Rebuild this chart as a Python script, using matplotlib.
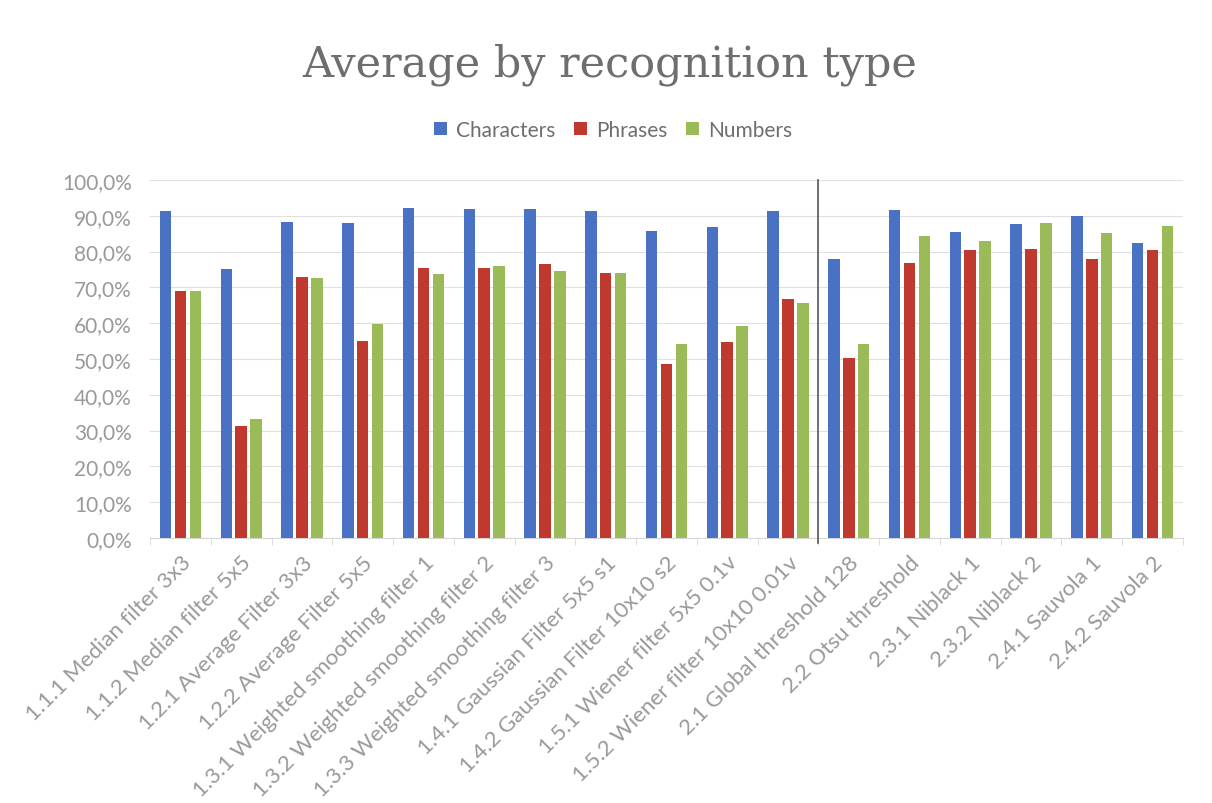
import matplotlib
matplotlib.use("Agg")
import matplotlib.pyplot as plt
import numpy as np
from matplotlib.ticker import FuncFormatter, FixedLocator

categories = [
    "1.1.1 Median filter 3x3", "1.1.2 Median filter 5x5", "1.2.1 Average Filter 3x3",
    "1.2.2 Average Filter 5x5", "1.3.1 Weighted smoothing filter 1",
    "1.3.2 Weighted smoothing filter 2", "1.3.3 Weighted smoothing filter 3",
    "1.4.1 Gaussian Filter 5x5 s1", "1.4.2 Gaussian Filter 10x10 s2",
    "1.5.1 Wiener filter 5x5 0.1v", "1.5.2 Wiener filter 10x10 0.01v",
    "2.1 Global threshold 128", "2.2 Otsu threshold", "2.3.1 Niblack 1",
    "2.3.2 Niblack 2", "2.4.1 Sauvola 1", "2.4.2 Sauvola 2",
]
characters = [91.3, 75.1, 88.3, 87.9, 92.2, 91.9, 92.0, 91.3, 85.7, 86.9, 91.4,
              77.8, 91.5, 85.5, 87.6, 89.8, 82.5]
phrases = [69.0, 31.2, 72.8, 55.0, 75.3, 75.5, 76.5, 74.1, 48.7, 54.6, 66.8,
           50.3, 76.7, 80.4, 80.6, 77.8, 80.4]
numbers = [69.1, 33.2, 72.6, 59.7, 73.7, 75.9, 74.5, 74.1, 54.3, 59.1, 65.6,
           54.2, 84.2, 83.0, 87.9, 85.2, 87.2]
series_names = ["Characters", "Phrases", "Numbers"]
colors = ["#4A72C4", "#C0392F", "#9BBB59"]

label_font = "Lato"
grey = "#999999"

fig = plt.figure(figsize=(12.12, 8.04), dpi=100)
ax = fig.add_axes([0.1238, 0.3296, 0.976 - 0.1238, 0.775 - 0.3296])

x = np.arange(len(categories))
offs = [-0.245, 0.0, 0.245]
width = 0.19
handles = []
for vals, off, c, name in zip([characters, phrases, numbers], offs, colors, series_names):
    h = ax.bar(x + off, np.array(vals) / 100.0, width=width, color=c, label=name, zorder=3)
    handles.append(h)

ax.set_xlim(-0.5, len(categories) - 0.5)
ax.set_ylim(0, 1.0)
ax.yaxis.set_major_locator(FixedLocator(np.arange(0, 1.01, 0.1)))
ax.yaxis.set_major_formatter(FuncFormatter(lambda v, p: f"{v*100:.1f}%".replace(".", ",")))
ax.grid(axis="y", color="#E0E0E0", linewidth=0.8, zorder=0)
for s in ["top", "right", "left"]:
    ax.spines[s].set_visible(False)
ax.spines["bottom"].set_color("#D6D6D6")
ax.tick_params(axis="y", length=0, labelsize=15, labelcolor=grey, pad=13)
for lab in ax.get_yticklabels():
    lab.set_fontfamily(label_font)

ax.set_xticks(x)
ax.set_xticklabels(categories, rotation=45, ha="right", rotation_mode="anchor",
                   fontsize=16, color=grey, fontfamily=label_font)
ax.tick_params(axis="x", length=0, pad=10)
ax.set_xticks(np.arange(-0.5, len(categories) + 0.5, 1.0), minor=True)
ax.tick_params(axis="x", which="minor", length=5, color="#D6D6D6")

ax.axvline(10.5, ymin=-0.015, ymax=1.0, color="#555555", linewidth=1.2, zorder=4, clip_on=False)

fig.text(0.503, 0.919, "Average by recognition type", ha="center", va="center",
         fontsize=31, color="#6E6E6E", fontfamily="DejaVu Serif")
fig.legend(handles=handles, labels=series_names, loc="center", bbox_to_anchor=(0.506, 0.837),
           ncol=3, frameon=False, handlelength=0.6, handleheight=0.6, handletextpad=0.45,
           columnspacing=0.9, prop={"family": label_font, "size": 15}, labelcolor="#6E6E6E")

fig.savefig("out.png", dpi=100)
